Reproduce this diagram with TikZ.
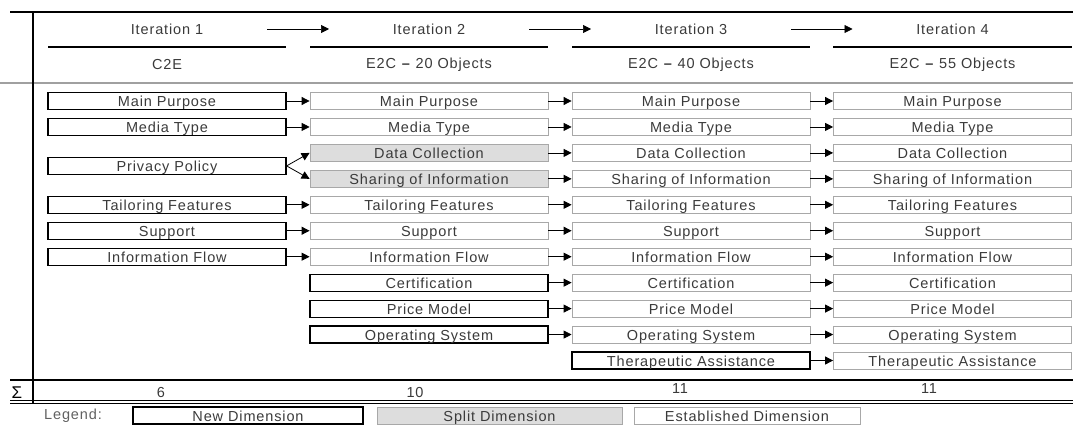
\documentclass[tikz,border=0pt]{standalone}
\usepackage{fontspec}
\setmainfont{Liberation Sans}[LetterSpace=6]
\usetikzlibrary{arrows.meta}
\definecolor{txt}{HTML}{3A3A3A}
\definecolor{estgray}{HTML}{A8A8A8}
\definecolor{splitfill}{HTML}{DDDDDD}
\definecolor{rulegray}{HTML}{A0A0A0}
\begin{document}
\begin{tikzpicture}[x=1pt,y=-1pt,
  every node/.style={font=\fontsize{14.5}{16}\selectfont, text=txt, inner sep=0pt},
  cellbase/.style={minimum width=238pt, minimum height=17pt, text height=14pt, text depth=2pt},
  newbox/.style={cellbase, draw=black, line width=1.2pt},
  estbox/.style={cellbase, draw=estgray, line width=0.8pt},
  splitbox/.style={cellbase, draw=estgray, fill=splitfill, line width=0.8pt},
  conn/.style={-{Triangle[length=8pt,width=8pt]}, line width=0.8pt, black},
  thickrule/.style={line width=2pt, black},
  colrule/.style={line width=2pt, black}
]
\useasboundingbox (0,0) rectangle (1073,425);
% frame rules
\draw[thickrule] (10,12) -- (1073,12);
\draw[line width=2pt, rulegray] (0,83) -- (1073,83);
\draw[thickrule] (10,380) -- (1073,380);
\draw[line width=1pt] (10,400.5) -- (1073,400.5);
\draw[line width=1pt] (10,403.5) -- (1073,403.5);
\draw[line width=1.5pt] (33,12) -- (33,403.5);

% headers
\node (h1) at (167,29) {Iteration 1};
\node (h2) at (429,29) {Iteration 2};
\node (h3) at (691,29) {Iteration 3};
\node (h4) at (952.5,29) {Iteration 4};
\coordinate (a1s) at (267,29); \coordinate (a1e) at (329,29);
\coordinate (a2s) at (529,29); \coordinate (a2e) at (591,29);
\coordinate (a3s) at (791,29); \coordinate (a3e) at (852.5,29);
\draw[conn, line width=0.7pt] (a1s) -- (a1e);
\draw[conn, line width=0.7pt] (a2s) -- (a2e);
\draw[conn, line width=0.7pt] (a3s) -- (a3e);
\draw[colrule] (48,47) -- (286,47);
\draw[colrule] (310,47) -- (548,47);
\draw[colrule] (572,47) -- (810,47);
\draw[colrule] (833,47) -- (1072,47);
\node (s1) at (167,65) {C2E};
\node (s2) at (429,65) {E2C \textbf{–} 20 Objects};
\node (s3) at (691,65) {E2C \textbf{–} 40 Objects};
\node (s4) at (952.5,65) {E2C \textbf{–} 55 Objects};

% column 1
\node[newbox] (r1c1) at (167,101) {Main Purpose};
\node[newbox] (r2c1) at (167,126.95) {Media Type};
\node[newbox] (ppc1) at (167,165.9) {Privacy Policy};
\node[newbox] (r5c1) at (167,204.8) {Tailoring Features};
\node[newbox] (r6c1) at (167,230.75) {Support};
\node[newbox] (r7c1) at (167,256.7) {Information Flow};

% column 2
\node[estbox] (r1c2) at (429,101) {Main Purpose};
\node[estbox] (r2c2) at (429,126.95) {Media Type};
\node[splitbox] (r3c2) at (429,152.9) {Data Collection};
\node[splitbox] (r4c2) at (429,178.85) {Sharing of Information};
\node[estbox] (r5c2) at (429,204.8) {Tailoring Features};
\node[estbox] (r6c2) at (429,230.75) {Support};
\node[estbox] (r7c2) at (429,256.7) {Information Flow};
\node[newbox] (r8c2) at (429,282.65) {Certification};
\node[newbox] (r9c2) at (429,308.6) {Price Model};
\node[newbox] (r10c2) at (429,334.55) {Operating System};

% column 3
\node[estbox] (r1c3) at (691,101) {Main Purpose};
\node[estbox] (r2c3) at (691,126.95) {Media Type};
\node[estbox] (r3c3) at (691,152.9) {Data Collection};
\node[estbox] (r4c3) at (691,178.85) {Sharing of Information};
\node[estbox] (r5c3) at (691,204.8) {Tailoring Features};
\node[estbox] (r6c3) at (691,230.75) {Support};
\node[estbox] (r7c3) at (691,256.7) {Information Flow};
\node[estbox] (r8c3) at (691,282.65) {Certification};
\node[estbox] (r9c3) at (691,308.6) {Price Model};
\node[estbox] (r10c3) at (691,334.55) {Operating System};
\node[newbox] (r11c3) at (691,360.5) {Therapeutic Assistance};

% column 4
\node[estbox] (r1c4) at (952.5,101) {Main Purpose};
\node[estbox] (r2c4) at (952.5,126.95) {Media Type};
\node[estbox] (r3c4) at (952.5,152.9) {Data Collection};
\node[estbox] (r4c4) at (952.5,178.85) {Sharing of Information};
\node[estbox] (r5c4) at (952.5,204.8) {Tailoring Features};
\node[estbox] (r6c4) at (952.5,230.75) {Support};
\node[estbox] (r7c4) at (952.5,256.7) {Information Flow};
\node[estbox] (r8c4) at (952.5,282.65) {Certification};
\node[estbox] (r9c4) at (952.5,308.6) {Price Model};
\node[estbox] (r10c4) at (952.5,334.55) {Operating System};
\node[estbox] (r11c4) at (952.5,360.5) {Therapeutic Assistance};

% connectors
\foreach \r in {1,2,5,6,7} { \draw[conn] (r\r c1.east) -- (r\r c2.west); }
\draw[conn] (ppc1.east) -- (r3c2.west);
\draw[conn] (ppc1.east) -- (r4c2.west);
\foreach \r in {1,...,10} { \draw[conn] (r\r c2.east) -- (r\r c3.west); }
\foreach \r in {1,...,11} { \draw[conn] (r\r c3.east) -- (r\r c4.west); }

% sums
\node[font=\fontsize{17}{18}\selectfont, text=black] (sig) at (17,392.5) {Σ};
\node (n1) at (161,392.5) {6};
\node (n2) at (415,392.5) {10};
\node (n3) at (680,389) {11};
\node (n4) at (929,389) {11};

% legend
\node[text=txt!80] (leg) at (73,415.5) {Legend:};
\node[newbox, minimum width=230pt] (lnew) at (248,415.5) {New Dimension};
\node[splitbox, minimum width=245pt] (lsplit) at (499.5,415.5) {Split Dimension};
\node[estbox, minimum width=226pt] (lest) at (747,415.5) {Established Dimension};
\end{tikzpicture}
\end{document}
